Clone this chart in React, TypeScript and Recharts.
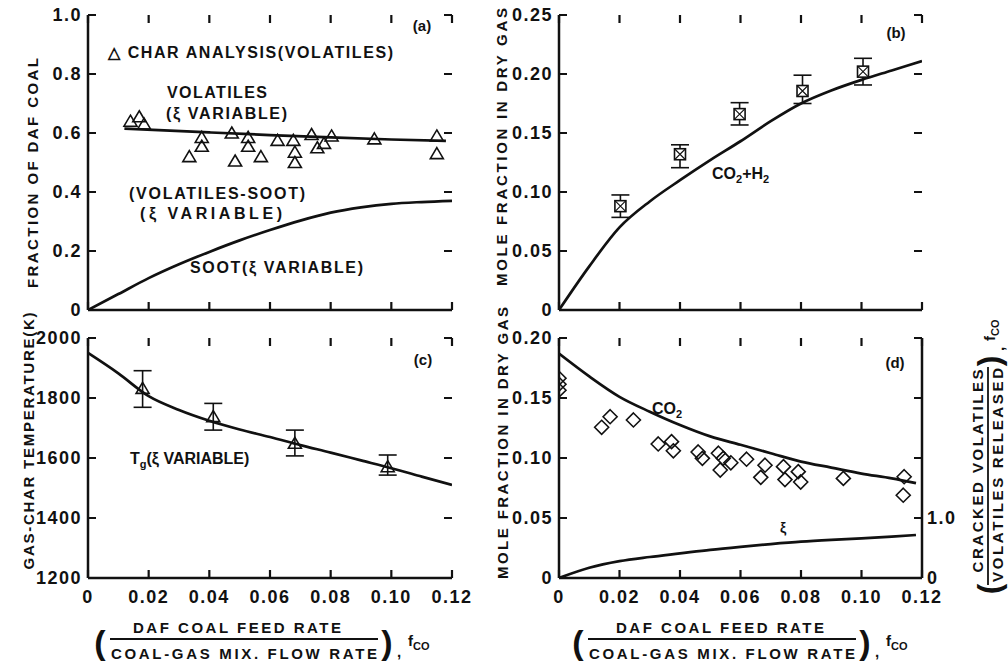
import React from 'react';
import { ComposedChart, Line, Scatter, XAxis, YAxis, ErrorBar } from 'recharts';

const FONT = '"Liberation Sans", Arial, Helvetica, sans-serif';
const INK = '#111';

// shared x axis (feed ratio f_co)
const xTicks = [0, 0.02, 0.04, 0.06, 0.08, 0.1, 0.12];

// (a) fraction of daf coal
const aTicks = [0, 0.2, 0.4, 0.6, 0.8, 1.0];
const aVolX = [0.012, 0.04, 0.06, 0.08, 0.1, 0.118];
const aVolY = [0.615, 0.602, 0.593, 0.585, 0.578, 0.573];
const aSootX = [0, 0.01, 0.02, 0.03, 0.04, 0.05, 0.06, 0.07, 0.08, 0.09, 0.1, 0.11, 0.12];
const aSootY = [0, 0.054, 0.108, 0.155, 0.197, 0.236, 0.271, 0.303, 0.33, 0.348, 0.36, 0.366, 0.37];
const aCharX = [0.014, 0.0169, 0.0185, 0.0334, 0.0375, 0.0375, 0.0474, 0.0485, 0.0528, 0.0528, 0.057, 0.0625, 0.0677, 0.0682, 0.0682, 0.0737, 0.0756, 0.0778, 0.0803, 0.0944, 0.115, 0.115];
const aCharY = [0.64, 0.655, 0.63, 0.52, 0.585, 0.555, 0.6, 0.505, 0.585, 0.555, 0.52, 0.575, 0.575, 0.535, 0.5, 0.595, 0.55, 0.565, 0.59, 0.58, 0.59, 0.53];

// (b) CO2+H2 mole fraction
const bTicks = [0, 0.05, 0.1, 0.15, 0.2, 0.25];
const bLineX = [0, 0.01, 0.02, 0.03, 0.04, 0.05, 0.06, 0.07, 0.08, 0.09, 0.1, 0.11, 0.12];
const bLineY = [0, 0.037, 0.07, 0.092, 0.11, 0.127, 0.143, 0.16, 0.175, 0.186, 0.195, 0.203, 0.211];
const bPtX = [0.0203, 0.04, 0.0597, 0.0805, 0.1005];
const bPtY = [0.088, 0.132, 0.166, 0.1856, 0.202];
const bPtLo = [0.0785, 0.1206, 0.1568, 0.175, 0.1907];
const bPtHi = [0.0975, 0.14, 0.1757, 0.199, 0.2133];

// (c) gas-char temperature
const cTicks = [1200, 1400, 1600, 1800, 2000];
const cLineX = [0, 0.01, 0.02, 0.03, 0.04, 0.05, 0.06, 0.07, 0.08, 0.09, 0.1, 0.11, 0.12];
const cLineY = [1950, 1882, 1806, 1760, 1724, 1695, 1670, 1643, 1618, 1592, 1566, 1538, 1510];
const cPtX = [0.018, 0.0413, 0.0682, 0.0988];
const cPtY = [1832, 1738, 1649, 1571];
const cPtLo = [1769, 1693, 1607, 1543];
const cPtHi = [1891, 1782, 1693, 1610];

// (d) CO2 mole fraction and xi
const dTicks = [0, 0.05, 0.1, 0.15, 0.2];
const dRightTicks = [0, 1, 2, 3, 4];
const dLineX = [0, 0.01, 0.02, 0.03, 0.04, 0.05, 0.06, 0.07, 0.08, 0.09, 0.1, 0.11, 0.118];
const dCo2Y = [0.187, 0.168, 0.151, 0.1386, 0.1275, 0.118, 0.111, 0.104, 0.097, 0.092, 0.087, 0.083, 0.079];
const dXiY = [0, 0.17, 0.28, 0.35, 0.41, 0.47, 0.52, 0.565, 0.605, 0.635, 0.66, 0.69, 0.717];
const dPtX = [0, 0, 0, 0.0141, 0.0169, 0.0246, 0.0328, 0.0372, 0.0378, 0.046, 0.0474, 0.0527, 0.0533, 0.0543, 0.0568, 0.062, 0.0667, 0.0681, 0.0742, 0.0747, 0.0791, 0.0799, 0.094, 0.1141, 0.1138];
const dPtY = [0.1665, 0.1615, 0.1565, 0.1256, 0.1344, 0.1317, 0.1117, 0.1136, 0.106, 0.105, 0.0997, 0.104, 0.09, 0.0997, 0.096, 0.099, 0.0839, 0.094, 0.0928, 0.082, 0.0886, 0.08, 0.083, 0.0844, 0.069];

const pts = (xs: number[], ys: number[]) => xs.map((x, i) => ({ x, y: ys[i] }));
const errPts = (xs: number[], ys: number[], lo: number[], hi: number[]) =>
  xs.map((x, i) => ({ x, y: ys[i], err: [ys[i] - lo[i], hi[i] - ys[i]] }));

const blank = () => '';
const fmtX = (v: number) => (v === 0 ? '0' : v.toFixed(2));

const axisStyle = { stroke: INK, strokeWidth: 2.5 };
const TICK = 8;

// panel frames (plot areas) used for the inward tick marks
const frames = [
  { L: 88, R: 452, T: 15, B: 310, lo: 0, hi: 1, yt: aTicks },
  { L: 559, R: 922, T: 15, B: 310, lo: 0, hi: 0.25, yt: bTicks },
  { L: 88, R: 452, T: 338, B: 578, lo: 1200, hi: 2000, yt: cTicks },
  { L: 559, R: 922, T: 338, B: 578, lo: 0, hi: 0.2, yt: dTicks },
];

function TickMarks() {
  return (
    <g stroke={INK} strokeWidth={2.2} fill="none">
      {frames.map((f, i) => (
        <g key={i}>
          {xTicks.map((v) => {
            const x = f.L + (v / 0.12) * (f.R - f.L);
            return <path key={`x${v}`} d={`M${x},${f.B}V${f.B - TICK}M${x},${f.T}V${f.T + TICK}`} />;
          })}
          {f.yt.map((v) => {
            const y = f.B - ((v - f.lo) / (f.hi - f.lo)) * (f.B - f.T);
            return <path key={`y${v}`} d={`M${f.L},${y}H${f.L + TICK}M${f.R},${y}H${f.R - TICK}`} />;
          })}
        </g>
      ))}
    </g>
  );
}

// tick labels at the axis edge (tickSize/tickMargin are 0)
const makeTick = (side: 'left' | 'right' | 'top' | 'bottom', fmt: (v: number) => string) => (props: any) => {
  const x = Number(props.x);
  const y = Number(props.y);
  const label = fmt(props.payload.value);
  if (!label) return <g />;
  const txt = { fontSize: 18, fontWeight: 700, fill: INK, fontFamily: FONT, letterSpacing: 1.5 };
  if (side === 'left') return <text x={x - 6} y={y + 6} textAnchor="end" {...txt}>{label}</text>;
  if (side === 'right') return <text x={x + 5} y={y + 6} textAnchor="start" {...txt}>{label}</text>;
  return <text x={x} y={y + 25} textAnchor="middle" {...txt}>{label}</text>;
};

// marker shapes
const OpenTriangle = (p: any) => (
  <path d={`M${p.cx},${p.cy - 6} L${p.cx + 6.5},${p.cy + 5} L${p.cx - 6.5},${p.cy + 5} Z`} fill="none" stroke={INK} strokeWidth={1.6} />
);
const BoxX = (p: any) => {
  const h = 5.5;
  return (
    <g stroke={INK} strokeWidth={1.6} fill="#fff">
      <rect x={p.cx - h} y={p.cy - h} width={2 * h} height={2 * h} />
      <path d={`M${p.cx - h},${p.cy - h} L${p.cx + h},${p.cy + h} M${p.cx + h},${p.cy - h} L${p.cx - h},${p.cy + h}`} strokeWidth={1.1} />
    </g>
  );
};
const OpenDiamond = (p: any) => (
  <path d={`M${p.cx},${p.cy - 7} L${p.cx + 7},${p.cy} L${p.cx},${p.cy + 7} L${p.cx - 7},${p.cy} Z`} fill="none" stroke={INK} strokeWidth={1.6} />
);

type PanelProps = {
  left: number; top: number; width: number; height: number;
  mt: number; mr: number; yWidth: number; xHeight: number;
  yDomain: number[]; yTicks: number[]; yFmt: (v: number) => string;
  xFmt: (v: number) => string; right?: React.ReactNode; children?: React.ReactNode;
};

function Panel(p: PanelProps) {
  return (
    <div style={{ position: 'absolute', left: p.left, top: p.top }}>
      <ComposedChart width={p.width} height={p.height} margin={{ top: p.mt, right: p.mr, bottom: 0, left: 0 }}>
        <XAxis xAxisId="b" type="number" dataKey="x" domain={[0, 0.12]} ticks={xTicks} interval={0}
          height={p.xHeight} tickSize={0} tickMargin={0} tickLine={false} tick={makeTick('bottom', p.xFmt)}
          axisLine={axisStyle} allowDataOverflow />
        <XAxis xAxisId="t" orientation="top" type="number" dataKey="x" domain={[0, 0.12]} ticks={xTicks} interval={0}
          height={0} tickSize={0} tickMargin={0} tickLine={false} tick={makeTick('top', blank)}
          axisLine={axisStyle} allowDataOverflow />
        <YAxis yAxisId="l" type="number" dataKey="y" domain={p.yDomain} ticks={p.yTicks} interval={0}
          width={p.yWidth} tickSize={0} tickMargin={0} tickLine={false} tick={makeTick('left', p.yFmt)}
          axisLine={axisStyle} allowDataOverflow />
        {p.right || (
          <YAxis yAxisId="r" orientation="right" type="number" dataKey="y" domain={p.yDomain} ticks={p.yTicks} interval={0}
            width={0} tickSize={0} tickMargin={0} tickLine={false} tick={makeTick('right', blank)}
            axisLine={axisStyle} allowDataOverflow />
        )}
        {p.children}
      </ComposedChart>
    </div>
  );
}

const lineProps = {
  xAxisId: 'b', type: 'monotone' as const, dataKey: 'y', dot: false, stroke: INK, strokeWidth: 2.7,
  isAnimationActive: false, activeDot: false,
};

const T = ({ x, y, size = 15, len, anchor = 'start', children, transform }: any) => (
  <text x={x} y={y} fontSize={size} fontWeight={700} fontFamily={FONT} fill={INK} textAnchor={anchor}
    textLength={len} lengthAdjust={len ? 'spacing' : undefined} transform={transform}>
    {children}
  </text>
);

function XTitle({ cx, numCx }: { cx: number; numCx: number }) {
  return (
    <g>
      <T x={numCx} y={633} anchor="middle" len={208}>DAF COAL FEED RATE</T>
      <line x1={cx - 134} x2={cx + 134} y1={639} y2={639} stroke={INK} strokeWidth={1.8} />
      <T x={cx} y={659} anchor="middle" len={266}>COAL-GAS MIX. FLOW RATE</T>
      <T x={cx - 144} y={654} size={34} anchor="middle">(</T>
      <T x={cx + 143} y={654} size={34} anchor="middle">)</T>
      <T x={cx + 153} y={657}>,</T>
      <T x={cx + 164} y={646} size={15}>f<tspan dy={4} fontSize={11}>CO</tspan></T>
    </g>
  );
}

export default function App() {
  return (
    <div style={{ position: 'absolute', left: 0, top: 0, width: 1008, height: 666, background: '#fff', overflow: 'hidden' }}>
      {/* (a) */}
      <Panel left={0} top={0} width={480} height={320} mt={15} mr={28} yWidth={88} xHeight={10}
        yDomain={[0, 1]} yTicks={aTicks} yFmt={(v) => (v === 0 ? '0' : v.toFixed(1))} xFmt={blank}>
        <Line {...lineProps} yAxisId="l" data={pts(aVolX, aVolY)} />
        <Line {...lineProps} yAxisId="l" data={pts(aSootX, aSootY)} />
        <Scatter xAxisId="b" yAxisId="l" data={pts(aCharX, aCharY)} shape={OpenTriangle} isAnimationActive={false} />
      </Panel>

      {/* (b) */}
      <Panel left={480} top={0} width={470} height={320} mt={15} mr={28} yWidth={79} xHeight={10}
        yDomain={[0, 0.25]} yTicks={bTicks} yFmt={(v) => (v === 0 ? '0' : v.toFixed(2))} xFmt={blank}>
        <Line {...lineProps} yAxisId="l" data={pts(bLineX, bLineY)} />
        <Scatter xAxisId="b" yAxisId="l" data={errPts(bPtX, bPtY, bPtLo, bPtHi)} shape={BoxX} isAnimationActive={false}>
          <ErrorBar dataKey="err" direction="y" width={9} stroke={INK} strokeWidth={1.6} isAnimationActive={false} />
        </Scatter>
      </Panel>

      {/* (c) */}
      <Panel left={0} top={320} width={480} height={346} mt={18} mr={28} yWidth={88} xHeight={88}
        yDomain={[1200, 2000]} yTicks={cTicks} yFmt={(v) => String(v)} xFmt={fmtX}>
        <Line {...lineProps} yAxisId="l" data={pts(cLineX, cLineY)} />
        <Scatter xAxisId="b" yAxisId="l" data={errPts(cPtX, cPtY, cPtLo, cPtHi)} shape={OpenTriangle} isAnimationActive={false}>
          <ErrorBar dataKey="err" direction="y" width={9} stroke={INK} strokeWidth={1.6} isAnimationActive={false} />
        </Scatter>
      </Panel>

      {/* (d) */}
      <Panel left={480} top={320} width={528} height={346} mt={18} mr={0} yWidth={79} xHeight={88}
        yDomain={[0, 0.2]} yTicks={dTicks} yFmt={(v) => (v === 0 ? '0' : v.toFixed(2))} xFmt={fmtX}
        right={
          <YAxis yAxisId="r" orientation="right" type="number" dataKey="y" domain={[0, 4]} ticks={dRightTicks} interval={0}
            width={86} tickSize={0} tickMargin={0} tickLine={false}
            tick={makeTick('right', (v: number) => (v === 0 ? '0' : v === 1 ? '1.0' : ''))}
            axisLine={axisStyle} allowDataOverflow />
        }>
        <Line {...lineProps} yAxisId="l" data={pts(dLineX, dCo2Y)} />
        <Line {...lineProps} yAxisId="r" data={pts(dLineX, dXiY)} />
        <Scatter xAxisId="b" yAxisId="l" data={pts(dPtX, dPtY)} shape={OpenDiamond} isAnimationActive={false} />
      </Panel>

      {/* tick marks, titles and annotations */}
      <svg width={1008} height={666} style={{ position: 'absolute', left: 0, top: 0, pointerEvents: 'none' }}>
        <TickMarks />
        <T transform="translate(38,173) rotate(-90)" x={0} y={0} anchor="middle" len={230}>FRACTION OF DAF COAL</T>
        <T transform="translate(507,147) rotate(-90)" x={0} y={0} anchor="middle" len={278}>MOLE FRACTION IN DRY GAS</T>
        <T transform="translate(34,441) rotate(-90)" x={0} y={0} anchor="middle" len={257}>GAS-CHAR TEMPERATURE(K)</T>
        <T transform="translate(508,443) rotate(-90)" x={0} y={0} anchor="middle" len={272}>MOLE FRACTION IN DRY GAS</T>

        <T x={422} y={31} anchor="middle">(a)</T>
        <T x={108} y={58} size={16} len={285}>△ CHAR ANALYSIS(VOLATILES)</T>
        <T x={167} y={98} size={16} len={100}>VOLATILES</T>
        <T x={166} y={119} size={16} len={121}>(ξ VARIABLE)</T>
        <T x={129} y={199} size={16} len={176}>(VOLATILES-SOOT)</T>
        <T x={140} y={219} size={16} len={142}>(ξ VARIABLE)</T>
        <T x={190} y={273} size={16} len={173}>SOOT(ξ VARIABLE)</T>

        <T x={896} y={38} anchor="middle">(b)</T>
        <T x={712} y={179} size={16}>CO<tspan dy={4} fontSize={11}>2</tspan><tspan dy={-4}>+H</tspan><tspan dy={4} fontSize={11}>2</tspan></T>

        <T x={423} y={365} anchor="middle">(c)</T>
        <T x={130} y={464} size={16}>T<tspan dy={4} fontSize={11}>g</tspan><tspan dy={-4}>(ξ  VARIABLE)</tspan></T>

        <T x={895} y={368} anchor="middle">(d)</T>
        <T x={652} y={414} size={16}>CO<tspan dy={4} fontSize={11}>2</tspan></T>
        <T x={783} y={533} size={14} anchor="middle">ξ</T>

        <XTitle cx={244} numCx={237} />
        <XTitle cx={722} numCx={720} />

        <g transform="translate(990,475) rotate(-90)">
          <T x={4} y={-7} anchor="middle" len={203}>CRACKED VOLATILES</T>
          <line x1={-110} x2={108} y1={-2} y2={-2} stroke={INK} strokeWidth={1.8} />
          <T x={0} y={13} anchor="middle" len={214}>VOLATILES RELEASED</T>
          <T x={-114} y={10} size={32} anchor="middle">(</T>
          <T x={114} y={10} size={32} anchor="middle">)</T>
          <T x={124} y={14}>,</T>
          <T x={134} y={5} size={15}>f<tspan dy={4} fontSize={11}>CO</tspan></T>
        </g>
      </svg>
    </div>
  );
}
